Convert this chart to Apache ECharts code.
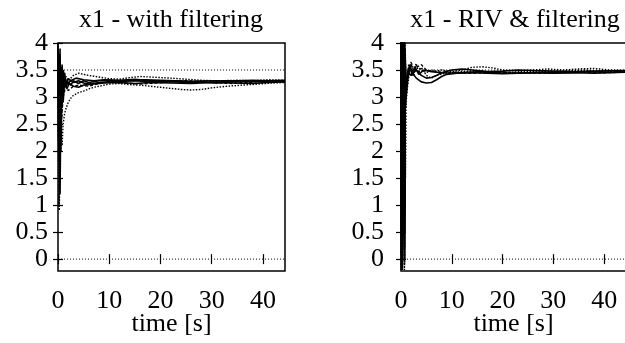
<!DOCTYPE html>
<html>
<head>
<meta charset="utf-8">
<script src="https://cdn.jsdelivr.net/npm/echarts@6/dist/echarts.min.js"></script>
<style>
  body { margin: 0; background: #fff; }
  #chart { width: 625px; height: 343px; }
</style>
</head>
<body>
<div id="chart"></div>
<script>
var titles = ["x1 - with filtering", "x1 - RIV & filtering"];
var xTicks = [0, 10, 20, 30, 40];
var yTicks = [0, 0.5, 1, 1.5, 2, 2.5, 3, 3.5, 4];
var refLevels = [0, 3.5];

// left panel: with filtering
var leftA = [[0,4],[0.2,2.6],[0.4,3.9],[0.6,2.2],[0.8,3.6],[1.0,3.1],[1.3,3.45],[1.6,3.2],[2,3.28],[2.5,3.22],[3,3.3],[4,3.25],[5,3.3],[6,3.27],[8,3.3],[10,3.31],[12,3.29],[15,3.3],[18,3.28],[21,3.29],[25,3.27],[28,3.28],[31,3.26],[34,3.28],[37,3.29],[40,3.28],[42,3.3],[44.3,3.29]];
var leftB = [[0,4],[0.15,1.8],[0.35,3.7],[0.55,2.4],[0.75,3.5],[1,2.9],[1.3,3.3],[1.7,3.15],[2.2,3.25],[3,3.2],[4,3.18],[5,3.22],[7,3.24],[9,3.26],[12,3.27],[15,3.25],[18,3.27],[22,3.26],[26,3.25],[30,3.27],[34,3.26],[38,3.25],[41,3.27],[44.3,3.28]];
var leftC = [[0,4],[0.2,1.0],[0.4,3.4],[0.6,2.0],[0.9,3.5],[1.2,3.2],[1.6,3.38],[2,3.3],[3,3.4],[4,3.44],[5,3.42],[6,3.4],[8,3.37],[10,3.34],[12,3.33],[14,3.36],[16,3.38],[18,3.37],[20,3.36],[22,3.35],[25,3.33],[28,3.31],[31,3.3],[35,3.31],[38,3.3],[41,3.32],[44.3,3.31]];
var leftD = [[0,4],[0.25,0.9],[0.5,2.5],[0.8,2.1],[1.0,2.5],[1.3,2.7],[1.6,2.8],[2,2.9],[2.5,2.98],[3,3.03],[4,3.08],[5,3.11],[6,3.15],[7,3.18],[8,3.2],[10,3.24],[12,3.25],[14,3.23],[16,3.22],[18,3.2],[20,3.18],[22,3.16],[24,3.14],[26,3.13],[28,3.14],[30,3.17],[33,3.2],[36,3.22],[39,3.24],[42,3.26],[44.3,3.27]];
var leftE = [[0,4],[0.1,2.2],[0.3,3.8],[0.5,2.9],[0.7,3.55],[1,3.3],[1.4,3.2],[2,3.34],[3,3.27],[4,3.3],[5,3.26],[6,3.24],[8,3.27],[11,3.29],[14,3.3],[17,3.32],[20,3.31],[23,3.3],[26,3.28],[29,3.27],[32,3.29],[35,3.3],[38,3.31],[41,3.3],[44.3,3.31]];
var leftF = [[0,4],[0.3,1.6],[0.5,3.2],[0.7,2.6],[1,3.0],[1.5,3.2],[2,3.12],[3,3.2],[4,3.22],[6,3.2],[8,3.25],[10,3.28],[13,3.26],[16,3.24],[19,3.26],[22,3.28],[25,3.3],[28,3.29],[31,3.27],[34,3.25],[37,3.27],[40,3.3],[44.3,3.29]];
var leftG = [[0,4],[0.2,3.0],[0.4,1.2],[0.6,3.3],[0.8,2.8],[1,3.5],[1.3,3.35],[1.8,3.25],[2.5,3.3],[3.5,3.35],[5,3.32],[7,3.3],[9,3.32],[12,3.31],[15,3.33],[18,3.3],[22,3.3],[26,3.29],[30,3.3],[34,3.3],[38,3.29],[42,3.3],[44.3,3.3]];

// right panel: RIV & filtering
var rightA = [[0,4.2],[0.05,-0.2],[0.1,4.2],[0.15,-0.1],[0.2,4.1],[0.3,0.0],[0.6,4.1],[0.7,0.2],[0.8,3.9],[0.9,2.8],[1.1,3.2],[1.4,3.5],[1.8,3.6],[2.2,3.4],[2.8,3.55],[3.5,3.42],[4.5,3.5],[6,3.47],[8,3.45],[10,3.44],[13,3.46],[16,3.47],[19,3.45],[22,3.44],[25,3.45],[28,3.46],[31,3.45],[34,3.46],[37,3.47],[40,3.46],[44.3,3.47]];
var rightB = [[0,4.2],[0.08,0.1],[0.16,4.1],[0.25,-0.1],[0.65,4.0],[0.75,0.5],[0.85,3.6],[1,3.0],[1.3,3.3],[1.7,3.55],[2.2,3.45],[3,3.35],[4,3.28],[5,3.26],[6,3.27],[7,3.32],[8,3.38],[9,3.42],[11,3.44],[14,3.45],[17,3.44],[20,3.43],[23,3.44],[26,3.45],[30,3.44],[34,3.45],[38,3.44],[41,3.45],[44.3,3.46]];
var rightC = [[0,4.2],[0.04,0.3],[0.12,4.2],[0.22,-0.2],[0.62,4.2],[0.72,-0.1],[0.82,4.0],[1,3.1],[1.5,3.6],[2,3.5],[3,3.58],[4,3.5],[5,3.45],[6,3.5],[7,3.48],[8,3.5],[10,3.47],[12,3.5],[14,3.55],[16,3.56],[18,3.54],[20,3.5],[23,3.48],[26,3.5],[29,3.52],[32,3.5],[35,3.52],[38,3.53],[41,3.5],[44.3,3.49]];
var rightD = [[0,4.2],[0.06,-0.2],[0.14,3.9],[0.24,0.2],[0.32,4.1],[0.68,-0.2],[0.78,4.1],[0.88,1.5],[1,2.9],[1.3,3.2],[1.6,3.4],[2,3.65],[2.5,3.5],[3,3.62],[3.5,3.45],[4,3.55],[5,3.4],[6,3.35],[7,3.4],[9,3.45],[12,3.47],[15,3.48],[18,3.46],[21,3.45],[24,3.47],[27,3.48],[30,3.47],[33,3.49],[36,3.5],[39,3.48],[42,3.47],[44.3,3.48]];
var rightE = [[0,4.2],[0.1,0.5],[0.18,4.0],[0.28,-0.2],[0.64,3.8],[0.74,0.8],[0.84,3.7],[1,3.3],[1.5,3.45],[2,3.4],[3,3.5],[4,3.4],[5,3.35],[6,3.36],[7,3.4],[8,3.45],[10,3.5],[12,3.52],[14,3.5],[17,3.47],[20,3.48],[23,3.5],[26,3.49],[30,3.48],[34,3.47],[38,3.48],[44.3,3.49]];
var rightF = [[0,4.2],[0.07,0.0],[0.2,4.2],[0.3,-0.1],[0.66,4.2],[0.76,0.0],[0.86,3.5],[1,3.2],[1.5,3.5],[2,3.62],[2.5,3.4],[3,3.55],[4,3.6],[5,3.5],[6,3.48],[8,3.46],[10,3.45],[13,3.44],[16,3.45],[20,3.46],[24,3.45],[28,3.44],[32,3.45],[36,3.46],[40,3.45],[44.3,3.46]];

var leftRuns = [leftA, leftB, leftC, leftD, leftE, leftF, leftG];
var rightRuns = [rightA, rightB, rightC, rightD, rightE, rightF];
var runStyles = ["solid", "solid", "dotted", "dotted", "solid", "dashed", "solid"];

var FONT = "Liberation Serif";
var grids = [
  { left: 58, top: 43, width: 227, height: 228 },
  { left: 401, top: 43, width: 225, height: 228 }
];
var titleCenters = [166, 510];
var labelMargins = [10, 17];

var xAxes = [];
var yAxes = [];
var series = [];
var titleList = [];

function addPanel(g, runs) {
  var base = {
    gridIndex: g,
    type: "value",
    min: 0,
    max: 44.3,
    splitLine: { show: false },
    axisLine: { show: false },
    axisTick: { show: true, inside: true, length: 5, customValues: xTicks, lineStyle: { color: "#000", width: 1.2 } },
  };
  xAxes.push(Object.assign({}, base, {
    position: "bottom",
    axisLabel: { customValues: xTicks, color: "#000", fontFamily: FONT, fontSize: 26, margin: 17 },
    name: "time [s]",
    nameLocation: "middle",
    nameGap: 40,
    nameMoveOverlap: false,
    nameTextStyle: { color: "#000", fontFamily: FONT, fontSize: 26 },
  }));
  xAxes.push(Object.assign({}, base, { position: "top", axisLabel: { show: false } }));

  var ybase = {
    gridIndex: g,
    type: "value",
    min: -0.22,
    max: 4,
    splitLine: { show: false },
    axisLine: { show: false },
    axisTick: { show: true, inside: true, length: 5, customValues: yTicks, lineStyle: { color: "#000", width: 1.2 } },
  };
  yAxes.push(Object.assign({}, ybase, {
    position: "left",
    axisLabel: { customValues: yTicks, color: "#000", fontFamily: FONT, fontSize: 26, margin: labelMargins[g] },
  }));
  yAxes.push(Object.assign({}, ybase, { position: "right", axisLabel: { show: false } }));

  refLevels.forEach(function (lv) {
    series.push({
      type: "line",
      xAxisIndex: g * 2,
      yAxisIndex: g * 2,
      data: [[0.6, lv], [44.3, lv]],
      symbol: "none",
      silent: true,
      lineStyle: { color: "#000", width: 1, type: [1, 2] },
    });
  });

  runs.forEach(function (run, i) {
    series.push({
      type: "line",
      xAxisIndex: g * 2,
      yAxisIndex: g * 2,
      data: run,
      symbol: "none",
      silent: true,
      lineStyle: { color: "#000", width: runStyles[i] == "solid" ? 1.6 : 1.4, type: runStyles[i] == "dotted" ? [1.5, 1.5] : runStyles[i] == "dashed" ? [3, 2] : "solid" },
    });
  });

  titleList.push({
    text: titles[g],
    left: titleCenters[g],
    top: 2,
    textAlign: "center",
    textStyle: { color: "#000", fontFamily: FONT, fontSize: 26, fontWeight: "normal" },
  });
}

addPanel(0, leftRuns);
addPanel(1, rightRuns);

var gridOpts = grids.map(function (g) {
  return Object.assign({ show: true, borderColor: "#000", borderWidth: 1.5, backgroundColor: "transparent", outerBoundsMode: "none", containLabel: false }, g);
});

var myChart = echarts.init(document.getElementById("chart"), null, { renderer: "canvas" });
myChart.setOption({
  animation: false,
  backgroundColor: "#fff",
  title: titleList,
  grid: gridOpts,
  xAxis: xAxes,
  yAxis: yAxes,
  series: series,
});
</script>
</body>
</html>
